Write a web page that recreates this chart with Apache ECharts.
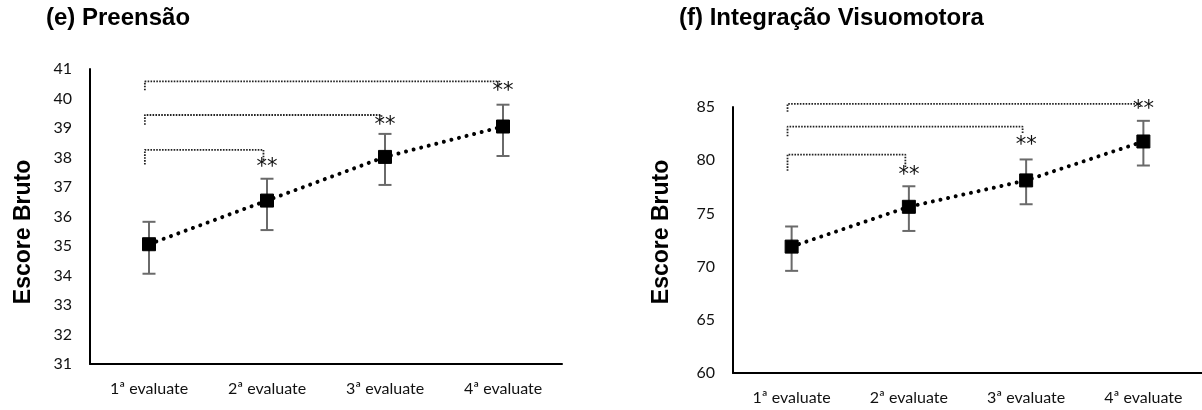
<!DOCTYPE html>
<html>
<head>
<meta charset="utf-8">
<script src="https://cdn.jsdelivr.net/npm/echarts@6/dist/echarts.min.js"></script>
<style>
html,body{margin:0;padding:0;background:#fff;}
#chart{width:1202px;height:410px;}
</style>
</head>
<body>
<div id="chart"></div>
<script>
// ---------- data ----------
const categories = ['1ª evaluate', '2ª evaluate', '3ª evaluate', '4ª evaluate'];

// (e) Preensão
const preTitle = '(e) Preensão';
const preTicks = [31, 32, 33, 34, 35, 36, 37, 38, 39, 40, 41];
const preMean = [35.06, 36.54, 38.02, 39.05];
const preLow  = [34.06, 35.54, 37.07, 38.05];
const preHigh = [35.82, 37.28, 38.80, 39.79];
const preStarCat = [1, 2, 3];
const preStarY   = [37.67, 39.08, 40.22];
const preBracketTo    = [1, 2, 3];
const preBracketY     = [38.26, 39.44, 40.58];
const preBracketLeft  = [37.76, 39.11, 40.28];
const preBracketRight = [37.85, 39.30, 40.45];

// (f) Integração Visuomotora
const vmiTitle = '(f) Integração Visuomotora';
const vmiTicks = [60, 65, 70, 75, 80, 85];
const vmiMean = [71.88, 75.62, 78.10, 81.76];
const vmiLow  = [69.60, 73.35, 75.86, 79.50];
const vmiHigh = [73.77, 77.55, 80.07, 83.70];
const vmiStarCat = [1, 2, 3];
const vmiStarY   = [78.58, 81.38, 84.73];
const vmiBracketTo    = [1, 2, 3];
const vmiBracketY     = [80.53, 83.15, 85.30];
const vmiBracketLeft  = [79.00, 82.25, 84.55];
const vmiBracketRight = [79.30, 82.50, 85.00];

const yName = 'Escore Bruto';
const starText = '**';

// ---------- build ----------
const tickFont = 'Lato';
const boldFont = '"Liberation Sans", Arial, sans-serif';

function bracketSeries(gi, to, y, l, r) {
  const out = [];
  for (let i = 0; i < to.length; i++) {
    const x0 = -0.035, x1 = to[i] - 0.03;
    out.push({
      type: 'line', xAxisIndex: gi * 2 + 1, yAxisIndex: gi,
      data: [[x0, l[i]], [x0, y[i]], [x1, y[i]], [x1, r[i]]],
      symbol: 'none', clip: false, silent: true, z: 1,
      lineStyle: { color: '#222', width: 1.8, type: [1.6, 1.3] }
    });
  }
  return out;
}

function errorSeries(gi, low, high) {
  return {
    type: 'custom', xAxisIndex: gi * 2, yAxisIndex: gi, z: 2, silent: true,
    data: low.map((v, i) => [i, v, high[i]]),
    renderItem: function (params, api) {
      const i = api.value(0);
      const lo = api.coord([i, api.value(1)]);
      const hi = api.coord([i, api.value(2)]);
      const w = 6.5;
      const st = { stroke: '#6a6a6a', lineWidth: 2 };
      return {
        type: 'group', children: [
          { type: 'line', shape: { x1: lo[0], y1: lo[1], x2: hi[0], y2: hi[1] }, style: st },
          { type: 'line', shape: { x1: lo[0] - w, y1: lo[1], x2: lo[0] + w, y2: lo[1] }, style: st },
          { type: 'line', shape: { x1: hi[0] - w, y1: hi[1], x2: hi[0] + w, y2: hi[1] }, style: st }
        ]
      };
    }
  };
}

function starSeries(gi, cats, ys) {
  return {
    type: 'custom', xAxisIndex: gi * 2, yAxisIndex: gi, z: 5, silent: true, clip: false,
    data: cats.map((c, i) => [c, ys[i]]),
    renderItem: function (params, api) {
      const p = api.coord([api.value(0), api.value(1)]);
      return {
        type: 'text', x: p[0], y: p[1],
        style: { text: starText, textAlign: 'center', textVerticalAlign: 'middle',
                 font: '21px "DejaVu Sans"', fill: '#111' }
      };
    }
  };
}

function meanSeries(gi, mean) {
  return {
    type: 'line', xAxisIndex: gi * 2, yAxisIndex: gi, z: 4,
    data: mean, symbol: 'rect', symbolSize: 13,
    itemStyle: { color: '#000', borderColor: '#000', borderWidth: 1 },
    lineStyle: { color: '#000', width: 4, type: [0.01, 7.8], cap: 'round' }
  };
}

const grids = [
  { left: 90, top: 69, width: 472, height: 295 },
  { left: 733, top: 107, width: 472, height: 266 }
];

function xAxes(gi) {
  return [
    {
      type: 'category', gridIndex: gi, data: categories, boundaryGap: true,
      axisLine: { onZero: false, lineStyle: { color: '#000', width: 2 } },
      axisTick: { show: false },
      axisLabel: { margin: 17, fontFamily: tickFont, fontSize: 16, color: '#111' },
      splitLine: { show: false }
    },
    {
      type: 'value', gridIndex: gi, min: -0.5, max: 3.5, show: false,
      axisLine: { onZero: false }
    }
  ];
}

function yAxis(gi, ticks) {
  return {
    type: 'value', gridIndex: gi,
    min: ticks[0], max: ticks[ticks.length - 1], interval: ticks[1] - ticks[0],
    axisLine: { show: true, onZero: false, lineStyle: { color: '#000', width: 2 } },
    axisTick: { show: false },
    splitLine: { show: false },
    axisLabel: { margin: 18, fontFamily: tickFont, fontSize: 16, color: '#111' }
  };
}

const option = {
  animation: false,
  backgroundColor: '#fff',
  title: [
    { text: preTitle, left: 46, top: 6, padding: 0,
      textStyle: { fontFamily: boldFont, fontSize: 24, fontWeight: 'bold', color: '#000' } },
    { text: vmiTitle, left: 679, top: 6, padding: 0,
      textStyle: { fontFamily: boldFont, fontSize: 24, fontWeight: 'bold', color: '#000' } }
  ],
  graphic: [
    { type: 'text', x: 24, y: 232, rotation: Math.PI / 2,
      style: { text: yName, textAlign: 'center', textVerticalAlign: 'middle',
               font: 'bold 23px "Liberation Sans"', fill: '#000' } },
    { type: 'text', x: 662, y: 232, rotation: Math.PI / 2,
      style: { text: yName, textAlign: 'center', textVerticalAlign: 'middle',
               font: 'bold 23px "Liberation Sans"', fill: '#000' } }
  ],
  grid: grids,
  xAxis: [].concat(xAxes(0), xAxes(1)),
  yAxis: [yAxis(0, preTicks), yAxis(1, vmiTicks)],
  series: [].concat(
    bracketSeries(0, preBracketTo, preBracketY, preBracketLeft, preBracketRight),
    bracketSeries(1, vmiBracketTo, vmiBracketY, vmiBracketLeft, vmiBracketRight),
    [errorSeries(0, preLow, preHigh), errorSeries(1, vmiLow, vmiHigh)],
    [meanSeries(0, preMean), meanSeries(1, vmiMean)],
    [starSeries(0, preStarCat, preStarY), starSeries(1, vmiStarCat, vmiStarY)]
  )
};

const chart = echarts.init(document.getElementById('chart'), null, { renderer: 'canvas' });
chart.setOption(option);
</script>
</body>
</html>
